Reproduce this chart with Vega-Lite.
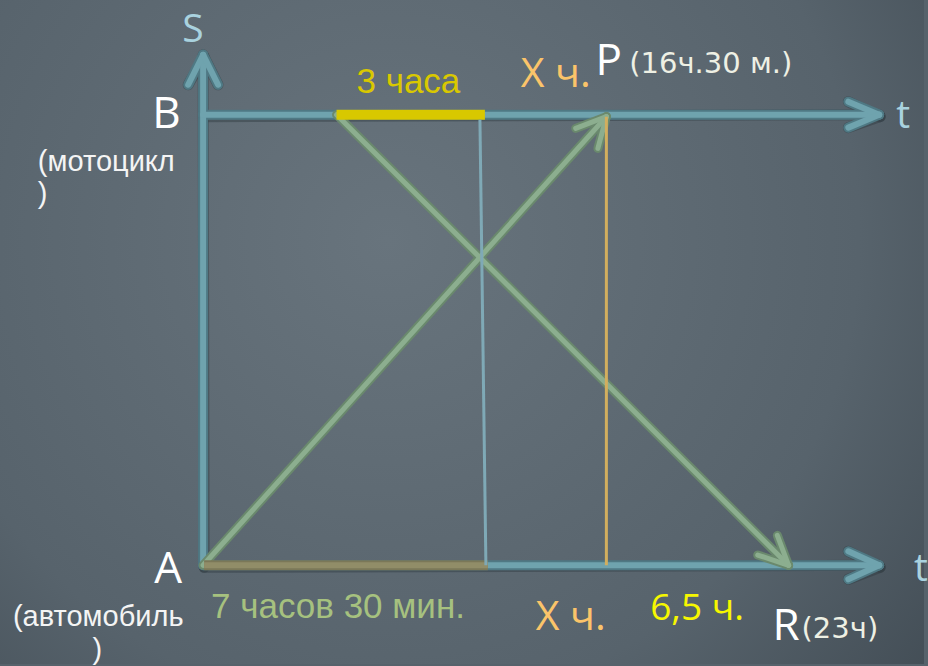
{
  "$schema": "https://vega.github.io/schema/vega-lite/v6.json",
  "autosize": {"type": "fit", "contains": "padding"},
  "width": 928,
  "height": 666,
  "padding": 0,
  "background": "#56626b",
  "config": {"view": {"stroke": null}},
  "datasets": {
    "axes": [
      {"t1": 0, "s1": 0, "t2": 0, "s2": 1.1327},
      {"t1": 0, "s1": 1.1327, "t2": -0.3947, "s2": 1.0664},
      {"t1": 0, "s1": 1.1327, "t2": 0.3947, "s2": 1.0664},
      {"t1": 0, "s1": 1, "t2": 17.868, "s2": 1},
      {"t1": 17.868, "s1": 1, "t2": 17.053, "s2": 1.0288},
      {"t1": 17.868, "s1": 1, "t2": 17.053, "s2": 0.9712},
      {"t1": 0, "s1": 0, "t2": 17.868, "s2": 0},
      {"t1": 17.868, "s1": 0, "t2": 17.053, "s2": 0.031},
      {"t1": 17.868, "s1": 0, "t2": 17.053, "s2": -0.031}
    ],
    "motion": [
      {"t1": 0, "s1": 0, "t2": 10.658, "s2": 0.9956},
      {"t1": 10.658, "s1": 0.9956, "t2": 9.847, "s2": 0.9695},
      {"t1": 10.658, "s1": 0.9956, "t2": 10.434, "s2": 0.925},
      {"t1": 3.526, "s1": 1, "t2": 15.474, "s2": 0},
      {"t1": 15.474, "s1": 0, "t2": 14.658, "s2": 0.0228},
      {"t1": 15.474, "s1": 0, "t2": 15.176, "s2": 0.0664}
    ],
    "labels": [
      {"role": "axisname", "text": "S", "t": -0.5526, "s": 1.1615},
      {"role": "axisname", "text": "t", "t": 18.316, "s": 0.9712},
      {"role": "axisname", "text": "t", "t": 18.789, "s": -0.0354},
      {"role": "point", "text": "B", "t": -1.342, "s": 0.9712},
      {"role": "point", "text": "A", "t": -1.2895, "s": -0.0398},
      {"role": "point", "text": "P", "t": 10.368, "s": 1.0885},
      {"role": "point", "text": "R", "t": 15.05, "s": -0.1659},
      {"role": "vehicle", "text": "(мотоцикл", "t": -4.368, "s": 0.8739},
      {"role": "vehicle", "text": ")", "t": -4.368, "s": 0.8031},
      {"role": "vehicle", "text": "(автомобиль", "t": -5.026, "s": -0.135},
      {"role": "vehicle", "text": ")", "t": -2.921, "s": -0.208},
      {"role": "moto", "text": "3 часа", "t": 4.053, "s": 1.0487},
      {"role": "car", "text": "7 часов 30 мин.", "t": 0.2105, "s": -0.1173},
      {"role": "x", "text": "Х ч.", "t": 8.395, "s": 1.0619},
      {"role": "x", "text": "Х ч.", "t": 8.789, "s": -0.1438},
      {"role": "clock", "text": "(16ч.30 м.)", "t": 11.263, "s": 1.0929},
      {"role": "clock", "text": "(23ч)", "t": 15.816, "s": -0.1615},
      {"role": "rest", "text": "6,5 ч.", "t": 11.816, "s": -0.1217}
    ]
  },
  "encoding": {
    "x": {"field": "t1", "type": "quantitative", "scale": {"domain": [-5.36842, 19.05263], "nice": false, "zero": false}, "axis": null},
    "y": {"field": "s1", "type": "quantitative", "scale": {"domain": [-0.21903, 1.25442], "nice": false, "zero": false}, "axis": null}
  },
  "layer": [
    {
      "data": {"values": [{}]},
      "mark": {"type": "rect", "color": {"gradient": "radial", "x1": 0.42, "y1": 0.4, "r1": 0, "x2": 0.42, "y2": 0.4, "r2": 0.85, "stops": [{"offset": 0, "color": "#68747d"}, {"offset": 0.6, "color": "#57636c"}, {"offset": 1, "color": "#3b454d"}]}},
      "encoding": {"x": null, "y": null}
    },
    {
      "data": {"name": "axes"},
      "mark": {"type": "rule", "color": "#2f3a40", "strokeWidth": 11, "strokeCap": "round", "opacity": 0.45, "yOffset": 2, "xOffset": 1},
      "encoding": {"x2": {"field": "t2"}, "y2": {"field": "s2"}}
    },
    {
      "data": {"name": "axes"},
      "mark": {"type": "rule", "color": "#4f7984", "strokeWidth": 10, "strokeCap": "round"},
      "encoding": {"x2": {"field": "t2"}, "y2": {"field": "s2"}}
    },
    {
      "data": {"name": "axes"},
      "mark": {"type": "rule", "color": "#6fa3ae", "strokeWidth": 6, "strokeCap": "round"},
      "encoding": {"x2": {"field": "t2"}, "y2": {"field": "s2"}}
    },
    {
      "data": {"name": "motion"},
      "mark": {"type": "rule", "color": "#6a896d", "strokeWidth": 9, "strokeCap": "round"},
      "encoding": {"x2": {"field": "t2"}, "y2": {"field": "s2"}}
    },
    {
      "data": {"name": "motion"},
      "mark": {"type": "rule", "color": "#8cae8f", "strokeWidth": 5, "strokeCap": "round"},
      "encoding": {"x2": {"field": "t2"}, "y2": {"field": "s2"}}
    },
    {
      "data": {"values": [{"t1": 3.526, "s1": 1, "t2": 7.447, "s2": 1}]},
      "mark": {"type": "rule", "color": "#d8c800", "strokeWidth": 10, "strokeCap": "butt"},
      "encoding": {"x2": {"field": "t2"}, "y2": {"field": "s2"}}
    },
    {
      "data": {"values": [{"t1": 0.026, "s1": 0, "t2": 7.526, "s2": 0}]},
      "mark": {"type": "rule", "color": "#7b7858", "strokeWidth": 10, "strokeCap": "butt"},
      "encoding": {"x2": {"field": "t2"}, "y2": {"field": "s2"}}
    },
    {
      "data": {"values": [{"t1": 0.026, "s1": 0, "t2": 7.526, "s2": 0}]},
      "mark": {"type": "rule", "color": "#918d68", "strokeWidth": 6, "strokeCap": "butt"},
      "encoding": {"x2": {"field": "t2"}, "y2": {"field": "s2"}}
    },
    {
      "data": {"values": [{"t1": 7.316, "s1": 0.9889, "t2": 7.474, "s2": 0}]},
      "mark": {"type": "rule", "color": "#7fa9b6", "strokeWidth": 3},
      "encoding": {"x2": {"field": "t2"}, "y2": {"field": "s2"}}
    },
    {
      "data": {"values": [{"t1": 10.658, "s1": 0.9956, "t2": 10.658, "s2": 0}]},
      "mark": {"type": "rule", "color": "#d2ae5e", "strokeWidth": 3},
      "encoding": {"x2": {"field": "t2"}, "y2": {"field": "s2"}}
    },
    {
      "data": {"name": "labels"},
      "transform": [{"filter": "datum.role === 'axisname'"}],
      "mark": {"type": "text", "align": "left", "baseline": "alphabetic", "font": "Open Sans", "fontSize": 39, "color": "#a9d2df"},
      "encoding": {"x": {"field": "t", "type": "quantitative"}, "y": {"field": "s", "type": "quantitative"}, "text": {"field": "text"}}
    },
    {
      "data": {"name": "labels"},
      "transform": [{"filter": "datum.role === 'point'"}],
      "mark": {"type": "text", "align": "left", "baseline": "alphabetic", "font": "Open Sans", "fontSize": 44, "color": "#ffffff"},
      "encoding": {"x": {"field": "t", "type": "quantitative"}, "y": {"field": "s", "type": "quantitative"}, "text": {"field": "text"}}
    },
    {
      "data": {"name": "labels"},
      "transform": [{"filter": "datum.role === 'vehicle'"}],
      "mark": {"type": "text", "align": "left", "baseline": "alphabetic", "font": "Liberation Sans", "fontSize": 29, "color": "#f4f4f4"},
      "encoding": {"x": {"field": "t", "type": "quantitative"}, "y": {"field": "s", "type": "quantitative"}, "text": {"field": "text"}}
    },
    {
      "data": {"name": "labels"},
      "transform": [{"filter": "datum.role === 'moto'"}],
      "mark": {"type": "text", "align": "left", "baseline": "alphabetic", "font": "Liberation Sans", "fontSize": 35, "color": "#d9c800"},
      "encoding": {"x": {"field": "t", "type": "quantitative"}, "y": {"field": "s", "type": "quantitative"}, "text": {"field": "text"}}
    },
    {
      "data": {"name": "labels"},
      "transform": [{"filter": "datum.role === 'car'"}],
      "mark": {"type": "text", "align": "left", "baseline": "alphabetic", "font": "Liberation Sans", "fontSize": 35, "color": "#a6c17f"},
      "encoding": {"x": {"field": "t", "type": "quantitative"}, "y": {"field": "s", "type": "quantitative"}, "text": {"field": "text"}}
    },
    {
      "data": {"name": "labels"},
      "transform": [{"filter": "datum.role === 'x'"}],
      "mark": {"type": "text", "align": "left", "baseline": "alphabetic", "font": "Open Sans", "fontSize": 41, "color": "#fbc46a"},
      "encoding": {"x": {"field": "t", "type": "quantitative"}, "y": {"field": "s", "type": "quantitative"}, "text": {"field": "text"}}
    },
    {
      "data": {"name": "labels"},
      "transform": [{"filter": "datum.role === 'clock'"}],
      "mark": {"type": "text", "align": "left", "baseline": "alphabetic", "font": "DejaVu Sans", "fontSize": 29, "color": "#eef0e4"},
      "encoding": {"x": {"field": "t", "type": "quantitative"}, "y": {"field": "s", "type": "quantitative"}, "text": {"field": "text"}}
    },
    {
      "data": {"name": "labels"},
      "transform": [{"filter": "datum.role === 'rest'"}],
      "mark": {"type": "text", "align": "left", "baseline": "alphabetic", "font": "Open Sans", "fontSize": 37, "color": "#f7f700"},
      "encoding": {"x": {"field": "t", "type": "quantitative"}, "y": {"field": "s", "type": "quantitative"}, "text": {"field": "text"}}
    }
  ]
}
